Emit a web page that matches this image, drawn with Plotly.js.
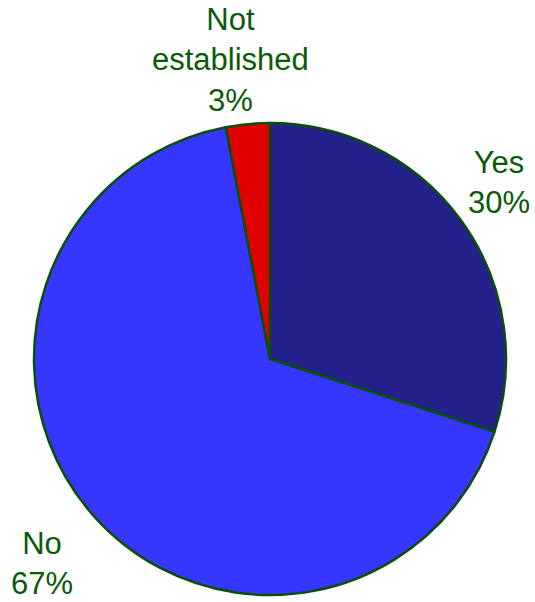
<!DOCTYPE html>
<html>
<head>
<meta charset="utf-8">
<script src="https://cdn.plot.ly/plotly-3.0.1.min.js"></script>
<style>html,body{margin:0;padding:0;background:#fff;}#chart{width:535px;height:602px;}</style>
</head>
<body>
<div id="chart"></div>
<script>
var categories = ["Yes", "No", "Not established"];
var values = [30, 67, 3];
var labelTexts = ["Yes<br>30%", "No<br>67%", "Not<br>established<br>3%"];
var sliceColors = ["#22228a", "#3636ff", "#e00000"];

var W = 535, H = 602;
var cx = 270, cy = 359, r = 236;

var trace = {
  type: "pie",
  labels: categories,
  values: values,
  sort: false,
  direction: "clockwise",
  rotation: 0,
  textinfo: "none",
  hoverinfo: "label+percent",
  marker: { colors: sliceColors, line: { color: "#0b4d0b", width: 2.5 } },
  domain: { x: [(cx - r) / W, (cx + r) / W], y: [(H - cy - r) / H, (H - cy + r) / H] }
};

var labelPos = [[499, 183], [42, 563], [230, 60]];
var annotations = categories.map(function (c, i) {
  return {
    text: labelTexts[i],
    x: labelPos[i][0] / W,
    y: 1 - labelPos[i][1] / H,
    xref: "paper", yref: "paper",
    xanchor: "center", yanchor: "middle",
    showarrow: false,
    align: "center",
    font: { family: "Liberation Sans, Arial, sans-serif", size: 31, color: "#0a5a0a" }
  };
});

var layout = {
  width: W, height: H,
  margin: { l: 0, r: 0, t: 0, b: 0 },
  paper_bgcolor: "#ffffff",
  showlegend: false,
  annotations: annotations
};

Plotly.newPlot("chart", [trace], layout, { displayModeBar: false, staticPlot: true });
</script>
</body>
</html>
